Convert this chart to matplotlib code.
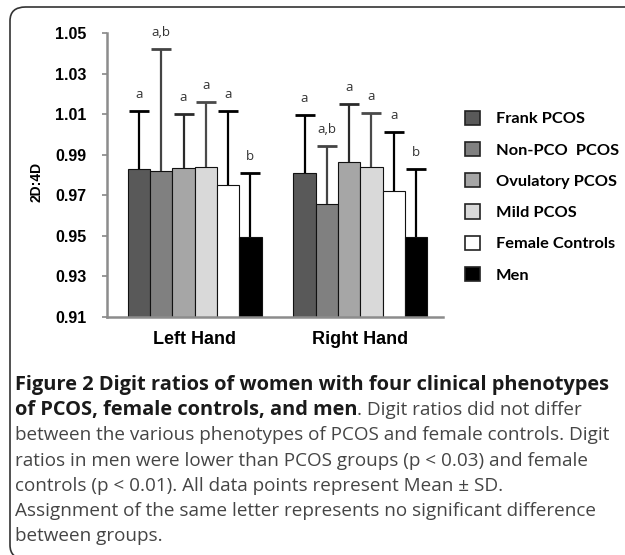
import numpy as np
import matplotlib
matplotlib.use("Agg")
import matplotlib.pyplot as plt
from matplotlib.patches import FancyBboxPatch, Patch

# ---- data ----
hands = ['Left Hand', 'Right Hand']
groups = ['Frank PCOS', 'Non-PCO  PCOS', 'Ovulatory PCOS', 'Mild PCOS',
          'Female Controls', 'Men']
means = {
    'Frank PCOS':      [0.9828, 0.9808],
    'Non-PCO  PCOS':   [0.9820, 0.9657],
    'Ovulatory PCOS':  [0.9833, 0.9862],
    'Mild PCOS':       [0.9838, 0.9838],
    'Female Controls': [0.9750, 0.9722],
    'Men':             [0.9493, 0.9493],
}
sds = {
    'Frank PCOS':      [0.0289, 0.0288],
    'Non-PCO  PCOS':   [0.0599, 0.0286],
    'Ovulatory PCOS':  [0.0267, 0.0288],
    'Mild PCOS':       [0.0322, 0.0269],
    'Female Controls': [0.0367, 0.0288],
    'Men':             [0.0315, 0.0335],
}
letters = {
    'Frank PCOS':      ['a', 'a'],
    'Non-PCO  PCOS':   ['a,b', 'a,b'],
    'Ovulatory PCOS':  ['a', 'a'],
    'Mild PCOS':       ['a', 'a'],
    'Female Controls': ['a', 'a'],
    'Men':             ['b', 'b'],
}
yticks = [0.91, 0.93, 0.95, 0.97, 0.99, 1.01, 1.03, 1.05]

colors = ['#595959', '#808080', '#a6a6a6', '#d9d9d9', '#ffffff', '#000000']
err_colors = ['#000000', '#444444', '#2a2a2a', '#4a4a4a', '#000000', '#000000']

caption_lines = [
    [("Figure 2 Digit ratios of women with four clinical phenotypes", 'bold')],
    [("of PCOS, female controls, and men", 'bold'),
     (". Digit ratios did not differ", 'normal')],
    [("between the various phenotypes of PCOS and female controls. Digit", 'normal')],
    [("ratios in men were lower than PCOS groups (p < 0.03) and female", 'normal')],
    [("controls (p < 0.01). All data points represent Mean \u00b1 SD.", 'normal')],
    [("Assignment of the same letter represents no significant difference", 'normal')],
    [("between groups.", 'normal')],
]

W, H = 625, 555
fig = plt.figure(figsize=(W / 100, H / 100), dpi=100)
ax = fig.add_axes([107 / W, 1 - 317 / H, 336 / W, 284 / H])

x = np.arange(len(hands))
bw = 0.1345
n = len(groups)
for i, g in enumerate(groups):
    xs = x + (i - (n - 1) / 2) * bw
    ax.bar(xs, means[g], bw, color=colors[i], edgecolor='#111111',
           linewidth=0.8, label=g, zorder=2)
    eb = ax.errorbar(xs, means[g], yerr=[np.zeros(len(hands)), sds[g]],
                     fmt='none', ecolor=err_colors[i], elinewidth=1.6,
                     capsize=7, capthick=2.0, zorder=3)
    eb[1][0].set_visible(False)   # only the upper cap
    for xi, m, s, lab in zip(xs, means[g], sds[g], letters[g]):
        ax.annotate(lab, (xi, m + s), xytext=(0, 12), textcoords='offset points',
                    ha='center', va='center', fontsize=9.5, color='#333333',
                    family='Open Sans', annotation_clip=False)

ax.set_ylim(0.91, 1.05)
ax.set_xlim(-0.53, 1.5)
ax.set_yticks(yticks)
ax.set_yticklabels([f"{v:.2f}" for v in yticks], fontweight='bold',
                   family='Liberation Sans', fontsize=11.5)
ax.set_xticks(x)
ax.set_xticklabels(hands, fontweight='bold', family='Liberation Sans', fontsize=13)
ax.tick_params(axis='x', length=0, pad=10)
ax.tick_params(axis='y', length=3.5, width=1.2, color='#888888', pad=11)
for side in ['top', 'right']:
    ax.spines[side].set_visible(False)
for side in ['left', 'bottom']:
    ax.spines[side].set_color('#8c8c8c')
    ax.spines[side].set_linewidth(1.8)
ax.set_ylabel('2D:4D', fontweight='bold', family='Liberation Sans', fontsize=10)
ax.yaxis.set_label_coords(-0.19, 0.475)

handles = [Patch(facecolor=c, edgecolor='#222222', linewidth=1.2) for c in colors]
fig.legend(handles, groups, loc='upper left', bbox_to_anchor=(458 / W, 1 - 104 / H),
           frameon=False, prop={'family': 'Lato', 'weight': 'bold', 'size': 11.8},
           handlelength=0.95, handleheight=0.95, handletextpad=0.95,
           labelspacing=0.95, borderaxespad=0)

# caption, one text per line; bold lead-in followed by regular text
sizes = {'bold': 14.4, 'normal': 13.6}
y0, dy = 390, 25.2
for k, parts in enumerate(caption_lines):
    ypos = 1 - (y0 + k * dy) / H
    xpos = 15 / W
    for txt, wt in parts:
        col = '#1a1a1a' if wt == 'bold' else '#454545'
        t = fig.text(xpos, ypos, txt, fontsize=sizes[wt], family='Open Sans',
                     weight=wt, color=col, va='baseline', ha='left')
        bb = t.get_window_extent(renderer=fig.canvas.get_renderer())
        xpos = bb.x1 / W

# rounded border box, only its top-left part falls inside the picture
box = FancyBboxPatch((10 / W, -4 / H), 1.2, 1 - 3 / H,
                     boxstyle='round,pad=0,rounding_size=0.025',
                     transform=fig.transFigure, facecolor='none',
                     edgecolor='#333333', linewidth=1.2, clip_on=False)
fig.patches.append(box)

fig.savefig('out.png', dpi=100)
